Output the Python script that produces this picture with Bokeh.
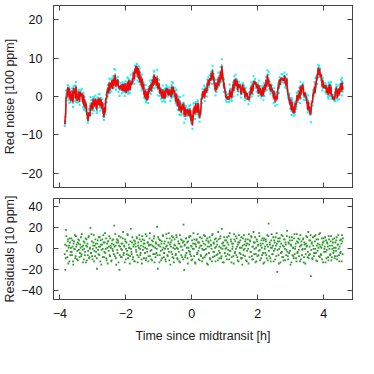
import numpy as np
from bokeh.plotting import figure
from bokeh.layouts import column
from bokeh.models import LinearAxis, FixedTicker, Range1d, ColumnDataSource
from bokeh.embed import file_html
from bokeh.resources import INLINE

# sampling of the light curve (hours since midtransit); two interleaved exposures per step
t_start = -3.85
t_step = 0.02
t_half = 0.01

# red-noise signal [100 ppm]
red_noise = [
    -7, -4, -1, 0, 2, 1, 2, 0, 1, -1, 0, 1, -1, 2, 1, 1, 0, 2, 0, -1,
    0, 1, -1, 1, 0, 1, 0, -1, 0, -2, -1, -3, -2, -4, -5, -6, -5, -4, -5, -3,
    -3, -2, -3, -1, -2, -2, -1, -2, -3, -1, -2, -1, -2, -1, -2, -1, -3, -2, -4, -5,
    -3, -4, -1, 0, 1, 2, 1, 3, 2, 3, 3, 4, 2, 4, 3, 4, 5, 3, 4, 3,
    4, 3, 2, 3, 2, 3, 2, 3, 1, 2, 3, 2, 3, 1, 2, 3, 2, 4, 3, 2,
    3, 4, 3, 5, 6, 5, 7, 6, 8, 7, 6, 7, 5, 6, 4, 5, 3, 4, 2, 3,
    1, 0, 1, 0, -1, 1, 0, 2, 1, 2, 3, 2, 3, 4, 3, 5, 4, 5, 4, 3,
    4, 3, 2, 3, 1, 2, 1, 0, 1, 0, 0, 1, 0, 2, 1, 2, 1, 0, 2, 1,
    1, 0, 2, 1, 2, 2, 1, 0, -1, 0, -1, -2, -1, -3, -2, -3, -4, -3, -2, -3,
    -3, -4, -3, -5, -4, -4, -3, -5, -4, -5, -4, -6, -5, -7, -6, -4, -3, -4, -2, -3,
    -4, -3, -2, -4, -5, -5, -3, -1, 0, 1, 0, 1, 0, 2, 1, 2, 3, 4, 3, 4,
    5, 4, 6, 5, 6, 5, 4, 3, 2, 3, 2, 3, 4, 3, 5, 4, 6, 5, 7, 6,
    4, 3, 2, 1, 0, 0, -1, 0, -1, 0, 1, 0, 1, 0, 2, 3, 2, 4, 3, 4,
    3, 4, 2, 3, 2, 3, 2, 1, 2, 3, 2, 1, 2, 0, 1, 0, 1, -1, 0, -1,
    0, 1, 2, 1, 3, 2, 3, 4, 3, 4, 3, 2, 3, 1, 2, 1, 2, 1, 0, 1,
    2, 1, 2, 3, 2, 4, 3, 5, 4, 3, 3, 2, 3, 1, 2, 1, 0, 1, 0, -1,
    0, -1, 1, 2, 3, 4, 3, 5, 4, 5, 4, 5, 4, 5, 4, 3, 4, 2, 1, 0,
    -1, -2, -1, -3, -2, -3, -4, -3, -4, -2, -2, -1, 0, -1, 0, 1, 0, 2, 1, 2,
    3, 2, 1, 0, 1, 0, -1, -2, -3, -2, -3, -4, -5, -3, -2, -1, 0, 1, 2, 1,
    3, 4, 5, 6, 7, 6, 7, 5, 6, 4, 3, 4, 2, 3, 2, 3, 2, 1, 2, 1,
    2, 3, 1, 2, 1, 0, -1, 0, -1, 0, 1, 2, 1, 0, 1, 2, 1, 2, 3, 2,
    3, 2,
]

# residuals [10 ppm], first exposure of each step
residuals_a = [
    -5, -20, 18, 3, -8, 9, 1, -12, 6, -3,
    10, -6, 2, -15, 7, 0, -9, 12, 4, -2,
    -11, 5, 8, -4, 1, -7, 14, -1, 3, -10,
    6, -3, -13, 9, 2, -6, 11, -9, 0, 20,
    -4, 7, -10, 3, 13, -2, -7, 5, 1, -19,
    8, -5, 2, 11, -12, 4, -1, 9, -8, 6,
    -3, 15, 0, -9, 5, -14, 7, 2, -6, 10,
    1, -11, 8, -2, 4, 22, -7, 3, -15, 9,
    -4, 6, 12, -20, 2, -8, 5, -1, 10, -6,
    3, -13, 7, 0, -5, 14, -9, 4, 1, -7,
    19, -3, 6, -10, 2, 8, -12, 5, -1, 11,
    -6, 3, -8, 13, 0, -4, 7, -14, 9, 2,
    -9, 5, 1, -11, 12, -3, 6, -7, 4, 15,
    -2, -10, 8, 3, -5, 10, -13, 1, 6, -4,
    21, -19, 4, 9, -6, 2, -11, 7, -1, 12,
    -8, 5, 0, -12, 14, 3, -7, 6, -3, 10,
    -15, 2, 8, -5, 11, -9, 4, 0, -6, 13,
    1, -10, 7, -3, 5, -13, 9, 2, -8, 6,
    23, -20, 4, -6, 10, 1, -9, 7, -2, 12,
    -5, 3, -11, 8, 0, 15, -7, 5, -14, 2,
    9, -4, 6, -10, 1, 11, -6, 3, -12, 7,
    -1, 13, -8, 4, 0, -5, 10, -15, 6, 2,
    -9, 8, 3, -12, 14, -3, 5, -7, 1, 10,
    -6, 4, -11, 9, 2, -4, 12, -9, 19, 0,
    6, -13, 3, 8, -7, 1, 11, -5, 4, -10,
    15, -2, 7, -8, 0, 5, -14, 9, -3, 12,
    -6, 2, -11, 6, 13, -4, 8, -9, 1, -15,
    10, -1, 4, -7, 9, 3, -12, 5, 0, 14,
    -8, 7, -3, 11, -10, 2, 16, -5, 6, -13,
    1, 9, -7, 4, -2, 12, -11, 3, 8, -6,
    5, -14, 10, 0, -4, 7, -9, 13, 2, 24,
    -7, 4, -12, 8, 1, -5, 11, -2, 6, -10,
    3, 15, -22, 7, -6, 0, 10, -13, 5, -3,
    12, -8, 2, 9, -11, 4, -1, 17, -7, 6,
    -4, 8, -15, 3, 11, -6, 1, -9, 14, 0,
    5, -12, 7, -3, 10, -7, 2, 13, -10, 4,
    -1, 9, -13, 6, 0, -5, 12, 3, -8, 16,
    -6, 2, 8, -26, 5, -9, 11, 0, -4, 7,
    13, -11, 3, -2, 9, -7, 4, 15, -5, 1,
    -10, 6, 10, -3, 2, -13, 8, -1, 5, -8,
    12, 0, -6, 7, -11, 3, 9, -4, 1, -9,
    6, -2, 11, -7, 4, 0, -12, 8, -3, 5,
    13, -5,
]

# residuals [10 ppm], second exposure of each step
residuals_b = [
    4, -9, 12, -2, 7, -14, 3, 10, -6, 1,
    -3, 8, -12, 5, 0, 13, -7, 2, -10, 6,
    9, -1, -8, 4, 11, -5, 2, -13, 7, 0,
    -6, 10, 3, -11, 5, -2, 12, -8, 1, -4,
    14, -7, 0, 6, -12, 3, 9, -3, -9, 5,
    -1, 11, -6, 2, 8, -15, 4, 0, 13, -8,
    6, -4, 10, -11, 1, 7, -2, 12, -7, 3,
    -12, 5, 0, 9, -5, 2, 14, -9, 6, -1,
    8, -13, 3, -6, 11, 0, -8, 5, 16, -4,
    2, 9, -10, 6, -2, 13, -6, 1, -14, 7,
    0, -5, 11, -8, 4, -12, 7, 2, -3, 10,
    -13, 6, 1, 9, -6, 3, -10, 12, -1, 5,
    8, -4, 14, -9, 0, 6, -12, 3, 10, -7,
    4, -1, -11, 7, 2, 12, -5, -8, 5, 0,
    -6, 11, 3, -13, 8, -2, 5, -9, 13, 1,
    -4, 7, -10, 2, 10, -6, 0, 15, -11, 4,
    6, -3, 12, -8, 1, -13, 9, 3, -5, 11,
    -9, 0, 5, -12, 13, 2, -6, 8, -1, -10,
    7, 3, -8, 10, -4, 6, -14, 1, 11, -3,
    12, -7, 2, -10, 5, 0, 9, -13, 4, 8,
    -5, 14, -2, 6, -11, 3, -7, 10, 0, -9,
    5, -1, 12, -6, 8, -14, 2, 7, -4, 11,
    -10, 4, 0, 13, -8, 6, -3, 9, -12, 2,
    7, -5, 16, -2, -9, 10, 1, -7, 5, -13,
    3, 11, -4, 0, 8, -10, 6, -1, 12, -6,
    -2, 9, -13, 5, 2, -7, 14, -4, 7, 0,
    10, -8, 4, -12, 6, 1, -5, 11, -9, 3,
    -6, 13, 0, 7, -11, 5, -2, 9, -14, 4,
    8, -3, 12, -7, 2, -10, 6, 0, 11, -5,
    -12, 7, 3, -6, 15, -1, 5, -9, 1, 10,
    -4, 8, -13, 2, 9, -6, 4, -11, 12, -2,
    6, -9, 1, 14, -5, 3, -12, 8, 0, 11,
    -7, 5, -1, 10, -14, 7, 2, -4, 13, -8,
    3, -11, 9, 0, 6, -6, 12, -3, -10, 5,
    11, -2, 4, -13, 8, 1, -7, 10, -5, 2,
    -9, 14, -4, 6, -1, 9, -12, 3, 7, -6,
    0, 10, -8, 4, -14, 5, 2, 11, -3, -9,
    8, -5, 13, -1, 6, -10, 3, -7, 12, 0,
    -4, 9, -12, 5, 1, 14, -8, 2, -6, 10,
    4, -13, 7, 0, 11, -3, -9, 6, 2, -11,
    9, 3, -5, 12, -8, 0, 6, -2, 10, -7,
    1, 8, -10, 4, 13, -6, 2, -4, 9, -12,
    7, 10,
]

x_ticks = [-4, -2, 0, 2, 4]
top_ticks = [-20, -10, 0, 10, 20]
bot_ticks = [-40, -20, 0, 20, 40]

n = min(len(red_noise), len(residuals_a), len(residuals_b))
t_a = t_start + t_step * np.arange(n)
t_b = t_a + t_half
red = np.array(red_noise[:n], dtype=float)
res_a = np.array(residuals_a[:n], dtype=float)
res_b = np.array(residuals_b[:n], dtype=float)

# interleave the two exposures in time order
t_all = np.column_stack([t_a, t_b]).ravel()
red_all = np.column_stack([red, red]).ravel()
res_all = np.column_stack([res_a, res_b]).ravel()
data_all = red_all + res_all / 7.0       # observed flux [100 ppm]
binned_all = red_all + res_all / 14.0    # lightly smoothed flux [100 ppm]
model_all = red_all + res_all / 25.0     # fitted red-noise curve [100 ppm]

src = ColumnDataSource(dict(t=t_all, res=res_all, data=data_all,
                            binned=binned_all, model=model_all))

FONT = "Liberation Sans"
FRAME = "#444444"
xr = Range1d(-4.19, 4.87)


def tick_style(ax):
    ax.axis_line_color = FRAME
    ax.major_tick_line_color = FRAME
    ax.major_tick_in = 5
    ax.major_tick_out = 0
    ax.minor_tick_line_color = None
    ax.major_label_text_font = FONT
    ax.major_label_text_font_size = "12.5px"
    ax.major_label_text_color = "#111111"
    ax.axis_label_text_font = FONT
    ax.axis_label_text_font_size = "12.5px"
    ax.axis_label_text_font_style = "normal"
    ax.axis_label_text_color = "#222222"


def make(height, yr, yticks, min_top, min_bottom, ylabel, xlabel):
    p = figure(width=366, height=height, x_range=xr, y_range=yr,
               output_backend="svg", toolbar_location=None,
               x_axis_location=None, y_axis_location=None,
               min_border_left=53, min_border_right=14,
               min_border_top=min_top, min_border_bottom=min_bottom)
    p.outline_line_color = FRAME
    p.outline_line_width = 1
    p.grid.visible = False
    # left axis with labels
    ly = LinearAxis(ticker=FixedTicker(ticks=yticks), axis_label=ylabel)
    tick_style(ly)
    ly.major_label_standoff = 11
    ly.axis_label_standoff = 1
    p.add_layout(ly, "left")
    # bottom axis
    bx = LinearAxis(ticker=FixedTicker(ticks=x_ticks))
    tick_style(bx)
    if xlabel:
        bx.axis_label = xlabel
        bx.major_label_standoff = 9
        bx.axis_label_standoff = 8
    else:
        bx.major_label_overrides = {v: "" for v in x_ticks}
        bx.major_label_standoff = 0
    p.add_layout(bx, "below")
    # mirrored tick marks (no labels) on right and top
    ry = LinearAxis(ticker=FixedTicker(ticks=yticks))
    tick_style(ry)
    ry.major_label_overrides = {v: "" for v in yticks}
    ry.major_label_standoff = 0
    p.add_layout(ry, "right")
    tx = LinearAxis(ticker=FixedTicker(ticks=x_ticks))
    tick_style(tx)
    tx.major_label_overrides = {v: "" for v in x_ticks}
    tx.major_label_standoff = 0
    p.add_layout(tx, "above")
    return p


top = make(192, Range1d(-23.74, 23.74), top_ticks, 5, 5,
           "Red noise [100 ppm]", None)
top.scatter("t", "data", source=src, marker="square", size=2,
            color="#22eef5", line_color=None)
top.line("t", "binned", source=src, line_color="#333333", line_width=1.6,
         line_alpha=0.55)
top.line("t", "model", source=src, line_color="#ff0000", line_width=1.4)

bot = make(167, Range1d(-48.3, 47.9), bot_ticks, 6, 60,
           "Residuals [10 ppm]", "Time since midtransit [h]")
bot.scatter("t", "res", source=src, marker="square", size=1.8,
            color="#2e9a2e", line_color=None)

layout = column(top, bot, spacing=0)
open("out.html", "w").write(file_html(layout, INLINE))
